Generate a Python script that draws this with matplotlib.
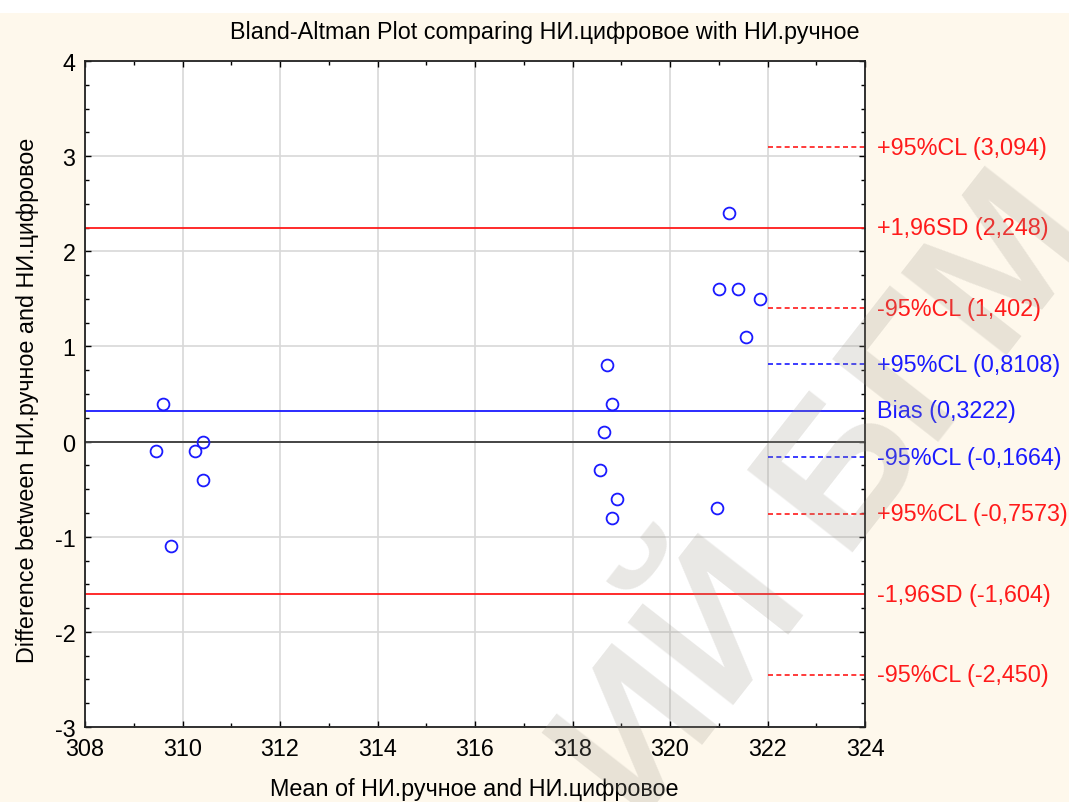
import matplotlib
matplotlib.use("Agg")
import matplotlib.pyplot as plt
import matplotlib.transforms as mtransforms
from matplotlib.patches import Rectangle
from matplotlib.ticker import MultipleLocator

plt.rcParams['font.family'] = ['Liberation Sans', 'DejaVu Sans']
plt.rcParams['axes.unicode_minus'] = False

# ---- data ----
mean_vals = [309.61, 309.46, 309.76, 310.42, 310.26, 310.42,
             318.71, 318.80, 318.65, 318.56, 318.92, 318.80,
             320.96, 321.22, 321.01, 321.40, 321.85, 321.56]
diff_vals = [0.4, -0.1, -1.1, 0.0, -0.1, -0.4,
             0.8, 0.4, 0.1, -0.3, -0.6, -0.8,
             -0.7, 2.4, 1.6, 1.6, 1.5, 1.1]

bias = 0.3222
sd_upper = 2.248
sd_lower = -1.604
cl_values = [3.094, 1.402, 0.8108, -0.1664, -0.7573, -2.450]
cl_colors = ['red', 'red', 'blue', 'blue', 'red', 'red']

label_values = [3.094, 2.248, 1.402, 0.8108, 0.3222, -0.1664, -0.7573, -1.604, -2.450]
label_texts = ['+95%CL (3,094)', '+1,96SD (2,248)', '-95%CL (1,402)',
               '+95%CL (0,8108)', 'Bias (0,3222)', '-95%CL (-0,1664)',
               '+95%CL (-0,7573)', '-1,96SD (-1,604)', '-95%CL (-2,450)']
label_colors = ['red', 'red', 'red', 'blue', 'blue', 'blue', 'red', 'red', 'red']

title = 'Bland-Altman Plot comparing НИ.цифровое with НИ.ручное'
xlabel = 'Mean of НИ.ручное and НИ.цифровое'
ylabel = 'Difference between НИ.ручное and НИ.цифровое'

RED = '#ff1a1a'
BLUE = '#1a1aff'
cmap = {'red': RED, 'blue': BLUE}
FS = 16.8

fig = plt.figure(figsize=(10.69, 8.03), dpi=100)
fig.patch.set_facecolor('#fef8ec')
fig.patches.append(Rectangle((0, 1 - 14 / 803), 1, 14 / 803, transform=fig.transFigure,
                             facecolor='white', edgecolor='none', zorder=0))

ax = fig.add_axes([85 / 1069, 1 - 728 / 803, 780 / 1069, 666 / 803])
ax.set_facecolor('white')
ax.set_xlim(308, 324)
ax.set_ylim(-3, 4)

ax.xaxis.set_major_locator(MultipleLocator(2))
ax.xaxis.set_minor_locator(MultipleLocator(1))
ax.yaxis.set_major_locator(MultipleLocator(1))
ax.yaxis.set_minor_locator(MultipleLocator(0.25))
ax.tick_params(which='both', direction='in', top=True, right=True,
               width=1.0, color='black')
ax.tick_params(which='major', length=4, labelsize=FS, pad=7)
ax.tick_params(which='minor', length=3)
ax.grid(True, which='major', color='#d8d8d8', linewidth=1.2, zorder=0)
ax.set_axisbelow(True)
for s in ax.spines.values():
    s.set_linewidth(1.3)
    s.set_color('#222222')

ax.axhline(0, color='#444444', linewidth=1.4, zorder=2)
ax.axhline(bias, color=BLUE, linewidth=1.3, zorder=2)
ax.axhline(sd_upper, color=RED, linewidth=1.3, zorder=2)
ax.axhline(sd_lower, color=RED, linewidth=1.3, zorder=2)
for v, c in zip(cl_values, cl_colors):
    ax.plot([322, 324], [v, v], color=cmap[c], linewidth=1.2,
            linestyle=(0, (3, 2)), zorder=2)

ax.plot(mean_vals, diff_vals, linestyle='none', marker='o', markersize=8.5,
        markerfacecolor='none', markeredgecolor=BLUE, markeredgewidth=1.3, zorder=3)

trans = mtransforms.blended_transform_factory(ax.transAxes, ax.transData)
offset = mtransforms.ScaledTranslation(12 / 100, 0, fig.dpi_scale_trans)
for v, t, c in zip(label_values, label_texts, label_colors):
    ax.text(1, v, t, transform=trans + offset, ha='left', va='center',
            fontsize=FS, color=cmap[c], clip_on=False)

fig.text(545 / 1069, 1 - 32 / 803, title, ha='center', va='center', fontsize=FS)
fig.text(474 / 1069, 1 - 790 / 803, xlabel, ha='center', va='center', fontsize=FS)
fig.text(28 / 1069, 1 - 400 / 803, ylabel, ha='center', va='center',
         fontsize=FS, rotation=90)

# watermark (lighter, behind the labels)
fig.text(830 / 1069, 1 - 500 / 803, 'ИЙ БГМ', ha='center', va='center',
         fontsize=140, fontweight='bold', color='#9a958a', alpha=0.22,
         rotation=52, zorder=10)

fig.savefig('out.png', dpi=100, facecolor=fig.get_facecolor())
